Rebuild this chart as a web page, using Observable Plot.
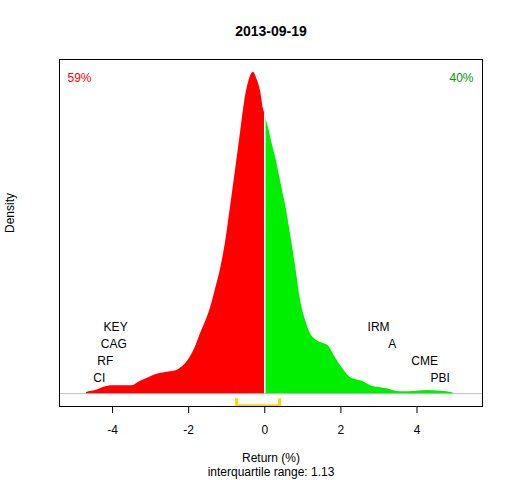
<!DOCTYPE html>
<html>
<head>
<meta charset="utf-8">
<script src="https://cdn.jsdelivr.net/npm/d3@7"></script>
<script src="https://cdn.jsdelivr.net/npm/@observablehq/plot@0.6"></script>
<style>
  html, body { margin: 0; padding: 0; background: #fff; }
  #chart svg { display: block; }
</style>
</head>
<body>
<div id="chart"></div>
<script>
// ---- data ----
const chartTitle = "2013-09-19";
const returnsPct = [-4.69, -4.68, -4.44, -4.18, -4.05, -3.48, -3.30, -3.08, -2.86, -2.64, -2.33, -2.22, -2.09, -1.96, -1.82, -1.69, -1.56, -1.43, -1.30, -1.16, -1.03, -0.90, -0.77, -0.64, -0.51, -0.42, -0.30, -0.20, -0.11, -0.03, 0.00, 0.02, 0.09, 0.19, 0.30, 0.39, 0.48, 0.57, 0.68, 0.81, 0.94, 1.07, 1.20, 1.34, 1.51, 1.68, 1.82, 1.95, 2.08, 2.21, 2.39, 2.56, 2.78, 3.22, 3.57, 4.01, 4.27, 4.62, 4.95, 4.96];
const densityVals = [0.000, 0.002, 0.005, 0.011, 0.013, 0.013, 0.019, 0.025, 0.031, 0.034, 0.037, 0.041, 0.048, 0.059, 0.076, 0.097, 0.116, 0.138, 0.168, 0.203, 0.246, 0.303, 0.362, 0.422, 0.481, 0.506, 0.521, 0.509, 0.490, 0.460, 0.455, 0.449, 0.433, 0.406, 0.379, 0.352, 0.325, 0.298, 0.257, 0.206, 0.151, 0.119, 0.097, 0.087, 0.082, 0.077, 0.062, 0.049, 0.038, 0.028, 0.023, 0.020, 0.013, 0.008, 0.003, 0.004, 0.005, 0.004, 0.001, 0.000];
const downTickers = ["KEY", "CAG", "RF", "CI"];
const downReturns = [-3.92, -3.97, -4.19, -4.35];
const upTickers = ["IRM", "A", "CME", "PBI"];
const upReturns = [2.99, 3.35, 4.20, 4.61];
const pctDown = 59;
const pctUp = 40;
const iqrLow = -0.74;
const iqrHigh = 0.39;
const iqrValue = 1.13;
const xTicks = [-4, -2, 0, 2, 4];

// ---- build ----
const curve = returnsPct.map((x, i) => ({x, y: densityVals[i]}));
const leftPart = curve.filter(d => d.x <= 0);
const rightPart = curve.filter(d => d.x >= 0);
const peak = d3.max(densityVals);
const atZero = curve.find(d => d.x === 0).y;

const labelStep = peak * 0.0535;
const labels = [
  ...downTickers.map((t, i) => ({t, x: downReturns[i], y: peak * 0.048 + (downTickers.length - 1 - i) * labelStep})),
  ...upTickers.map((t, i) => ({t, x: upReturns[i], y: peak * 0.048 + (upTickers.length - 1 - i) * labelStep}))
];

const yTop = -peak * 0.0145;
const yBot = -peak * 0.0375;
const bracket = [
  {x: iqrLow, y: yTop}, {x: iqrLow, y: yBot},
  {x: iqrHigh, y: yBot}, {x: iqrHigh, y: yTop}
];

const font = "'Liberation Sans', Arial, Helvetica, sans-serif";
const fmt = d => d < 0 ? "-" + Math.abs(d) : String(d);

const plot = Plot.plot({
  width: 512,
  height: 480,
  marginLeft: 59,
  marginRight: 30,
  marginTop: 59,
  marginBottom: 74,
  style: {fontFamily: font, fontSize: "12px", background: "#fff", color: "#000"},
  x: {domain: [(59.3 - 264.3) / 38, (481.7 - 264.3) / 38], label: null},
  y: {domain: [-peak * 0.04, peak * 1.04], axis: null},
  marks: [
    Plot.ruleY([0], {stroke: "#bebebe", strokeWidth: 1}),
    Plot.areaY(leftPart, {x: "x", y: "y", fill: "#ff0000", curve: "monotone-x"}),
    Plot.areaY(rightPart, {x: "x", y: "y", fill: "#00ee00", curve: "monotone-x"}),
    Plot.ruleX([0], {y1: 0, y2: atZero, stroke: "#ffffff", strokeWidth: 1.6}),
    Plot.text(labels, {x: "x", y: "y", text: "t", fill: "#000", fontSize: 12, textAnchor: "middle"}),
    Plot.line(bracket, {x: "x", y: "y", stroke: "#ffd700", strokeWidth: 3, strokeLinejoin: "round", strokeLinecap: "butt"}),
    Plot.frame({stroke: "#000", strokeWidth: 1}),
    Plot.axisX({ticks: xTicks, tickSize: 7, tickPadding: 12, fontSize: 12, tickFormat: fmt, label: null}),
    Plot.text([pctDown + "%"], {frameAnchor: "top-left", dx: 20, dy: 19, fill: "#ff0000", fontSize: 12, textAnchor: "middle", lineAnchor: "middle"}),
    Plot.text([pctUp + "%"], {frameAnchor: "top-right", dx: -9, dy: 19, fill: "#009a00", fontSize: 12, textAnchor: "end", lineAnchor: "middle"}),
    Plot.text([chartTitle], {frameAnchor: "top", dy: -28, fontSize: 14, fontWeight: "bold", lineAnchor: "middle", fill: "#000"}),
    Plot.text(["Return (%)"], {frameAnchor: "bottom", dy: 52, fontSize: 12, lineAnchor: "middle", fill: "#000"}),
    Plot.text(["interquartile range: " + iqrValue.toFixed(2)], {frameAnchor: "bottom", dy: 66, fontSize: 12, lineAnchor: "middle", fill: "#000"}),
    Plot.text(["Density"], {frameAnchor: "left", dx: -49, rotate: -90, fontSize: 12, lineAnchor: "middle", fill: "#000"})
  ]
});
document.getElementById("chart").appendChild(plot);
</script>
</body>
</html>
